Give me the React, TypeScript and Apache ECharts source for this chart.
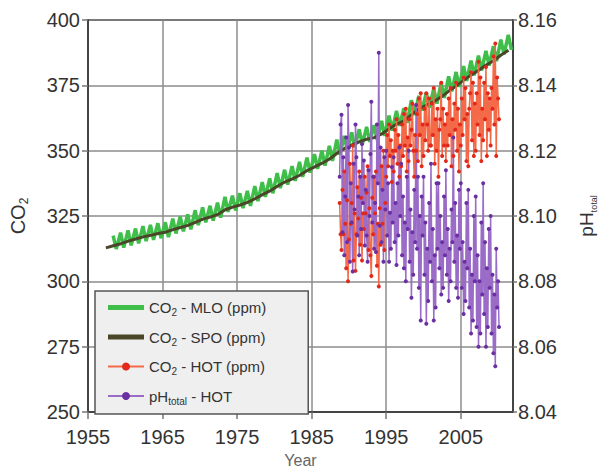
import React, { useEffect, useRef } from "react";
import * as echarts from "echarts";

// Mauna Loa CO2 (ppm): seasonal maximum (May) and minimum (Sep/Oct) per year, 1958-2011
const mloStartYear = 1958;
const mloPeaks = [317.5, 318.6, 319.5, 320.2, 321.1, 321.6, 322.2, 322.6, 324.0, 324.8, 325.6, 327.2, 328.3, 328.9, 330.1, 332.3, 332.8, 333.7, 334.6, 336.4, 338.0, 339.4, 341.4, 342.7, 344.1, 345.7, 347.3, 348.7, 350.0, 351.8, 354.2, 355.7, 357.0, 358.2, 359.1, 359.7, 361.4, 363.4, 365.2, 366.3, 369.3, 371.0, 372.2, 373.7, 375.9, 378.4, 380.1, 382.4, 384.5, 386.4, 388.2, 390.0, 392.5, 394.3];
const mloTroughs = [312.4, 312.9, 313.8, 314.5, 315.4, 315.9, 316.5, 316.9, 318.3, 319.1, 319.9, 321.5, 322.6, 323.2, 324.4, 326.6, 327.1, 328.0, 328.9, 330.7, 332.3, 333.7, 335.7, 337.0, 338.4, 340.0, 341.6, 343.0, 344.3, 346.1, 348.5, 350.0, 351.3, 352.5, 353.4, 354.0, 355.7, 357.7, 359.5, 360.6, 363.6, 365.3, 366.5, 368.0, 370.2, 372.7, 374.4, 376.7, 378.8, 380.7, 382.5, 384.3, 386.8, 388.6];

// South Pole CO2 (ppm), annual, 1957-2011
const spoStartYear = 1957;
const spoValues = [312.8, 313.6, 314.4, 315.4, 316.2, 317.0, 317.6, 318.3, 318.8, 319.8, 320.6, 321.4, 322.6, 323.8, 324.6, 325.6, 327.4, 328.4, 329.2, 330.2, 331.6, 333.2, 334.6, 336.4, 338.0, 339.2, 340.6, 342.4, 343.8, 345.2, 346.8, 349.0, 350.8, 352.2, 353.4, 354.4, 355.0, 356.4, 358.4, 360.2, 361.4, 363.8, 366.0, 367.4, 368.8, 370.6, 372.8, 374.8, 377.0, 379.0, 380.8, 382.8, 384.4, 386.6, 388.4];

// HOT station cruises: start 1988.75, every 1/8 year
const hotStartYear = 1988.75;
const hotStep = 0.125;
const hotCo2 = [
  330, 318,
  312, 335, 318, 342, 322, 305, 331, 300,
  316, 345, 322, 330, 352, 308, 326, 304,
  318, 336, 324, 342, 314, 332, 308, 326,
  320, 340, 326, 334, 344, 312, 328, 310,
  302, 332, 318, 340, 326, 342, 306, 322,
  298, 328, 314, 344, 322, 350, 312, 330,
  340, 356, 344, 360, 348, 354, 338, 350,
  342, 358, 350, 362, 345, 356, 340, 352,
  344, 360, 348, 364, 352, 366, 342, 355,
  346, 362, 352, 358, 368, 350, 340, 356,
  350, 364, 346, 370, 356, 372, 344, 360,
  348, 366, 354, 372, 360, 350, 370, 352,
  352, 368, 356, 374, 345, 362, 350, 366,
  340, 358, 362, 376, 348, 366, 352, 360,
  346, 364, 352, 370, 356, 374, 344, 362,
  348, 368, 358, 376, 350, 366, 342, 360,
  352, 370, 356, 378, 362, 374, 346, 364,
  344, 366, 372, 380, 354, 376, 348, 368,
  350, 372, 360, 384, 356, 378, 346, 366,
  354, 376, 362, 382, 348, 372, 358, 370,
  352, 374, 366, 386, 360, 391, 348, 378,
  370, 362,
];
const hotPh = [
  8.112, 8.128,
  8.131, 8.095, 8.118, 8.088, 8.106, 8.124, 8.092, 8.134,
  8.121, 8.086, 8.110, 8.098, 8.083, 8.116, 8.102, 8.128,
  8.118, 8.094, 8.106, 8.088, 8.112, 8.096, 8.122, 8.104,
  8.117, 8.091, 8.108, 8.094, 8.086, 8.114, 8.100, 8.119,
  8.135, 8.098, 8.112, 8.090, 8.104, 8.089, 8.128, 8.110,
  8.150, 8.097, 8.121, 8.092, 8.108, 8.086, 8.118, 8.102,
  8.120, 8.094, 8.110, 8.086, 8.101, 8.090, 8.115, 8.098,
  8.118, 8.092, 8.104, 8.085, 8.110, 8.094, 8.121, 8.100,
  8.116, 8.088, 8.106, 8.084, 8.098, 8.080, 8.112, 8.096,
  8.120, 8.086, 8.102, 8.075, 8.095, 8.082, 8.108, 8.092,
  8.134, 8.090, 8.112, 8.078, 8.100, 8.068, 8.106, 8.094,
  8.112, 8.082, 8.098, 8.067, 8.090, 8.074, 8.104, 8.086,
  8.116, 8.080, 8.096, 8.068, 8.088, 8.072, 8.110, 8.090,
  8.110, 8.084, 8.100, 8.076, 8.092, 8.078, 8.106, 8.088,
  8.114, 8.082, 8.096, 8.074, 8.090, 8.080, 8.102, 8.092,
  8.124, 8.086, 8.104, 8.078, 8.094, 8.075, 8.108, 8.090,
  8.110, 8.078, 8.092, 8.070, 8.086, 8.074, 8.104, 8.084,
  8.108, 8.072, 8.090, 8.064, 8.082, 8.068, 8.100, 8.080,
  8.106, 8.066, 8.088, 8.060, 8.080, 8.064, 8.098, 8.076,
  8.110, 8.070, 8.092, 8.060, 8.084, 8.066, 8.096, 8.078,
  8.100, 8.064, 8.082, 8.058, 8.076, 8.054, 8.090, 8.072,
  8.080, 8.066,
];

const seriesNames = ["CO₂ - MLO (ppm)", "CO₂ - SPO (ppm)", "CO₂ - HOT (ppm)", "pHtotal - HOT"];
const legendRich: Record<string, string> = {
  "CO₂ - MLO (ppm)": "{n|CO}{s|2}{n| - MLO (ppm)}",
  "CO₂ - SPO (ppm)": "{n|CO}{s|2}{n| - SPO (ppm)}",
  "CO₂ - HOT (ppm)": "{n|CO}{s|2}{n| - HOT (ppm)}",
  "pHtotal - HOT": "{n|pH}{s|total}{n| - HOT}",
};

const FONT = "'Liberation Sans', Arial, sans-serif";
const C_MLO = "#3fbf4a";
const C_SPO = "#4a4628";
const LINE_ICON = "path://M0 0H36V5H0Z";

export default function App() {
  const ref = useRef<HTMLDivElement>(null);
  useEffect(() => {
    const chart = echarts.init(ref.current!, null, { renderer: "svg" });

    const mloData: number[][] = [];
    mloPeaks.forEach((p, i) => {
      mloData.push([mloStartYear + i + 0.37, p]);
      mloData.push([mloStartYear + i + 0.79, mloTroughs[i]]);
    });
    const spoData = spoValues.map((v, i) => [spoStartYear + i + 0.4, v]);
    const hotCo2Data = hotCo2.map((v, i) => [hotStartYear + i * hotStep, v]);
    const hotPhData = hotPh.map((v, i) => [hotStartYear + i * hotStep, v]);

    const legendTextRich = {
      n: { fontFamily: FONT, fontSize: 15, color: "#333", lineHeight: 20, verticalAlign: "middle" },
      s: { fontFamily: FONT, fontSize: 10, color: "#333", lineHeight: 10, verticalAlign: "bottom" },
    };
    const nameRich = (size: number, sub: number) => ({
      n: { fontFamily: FONT, fontSize: size, color: "#333", lineHeight: size + 4, verticalAlign: "middle" },
      s: { fontFamily: FONT, fontSize: sub, color: "#333", lineHeight: sub, verticalAlign: "bottom" },
    });

    const option: any = {
      animation: false,
      backgroundColor: "#fff",
      textStyle: { fontFamily: FONT },
      grid: {
        left: 87, right: 82, top: 20, bottom: 55,
        show: true, backgroundColor: "#fff", borderColor: "#444", borderWidth: 2,
      },
      legend: {
        data: [
          { name: seriesNames[0], icon: LINE_ICON, itemStyle: { color: C_MLO } },
          { name: seriesNames[1], icon: LINE_ICON, itemStyle: { color: C_SPO } },
          { name: seriesNames[2] },
          { name: seriesNames[3] },
        ],
        orient: "vertical",
        left: 95,
        top: 291,
        itemWidth: 36,
        itemHeight: 10,
        itemGap: 12,
        padding: [9, 42, 8, 12],
        backgroundColor: "#efefef",
        borderColor: "#555",
        borderWidth: 1.5,
        formatter: (n: string) => legendRich[n] ?? n,
        textStyle: { rich: legendTextRich },
      },
      xAxis: [
        { type: "value", min: 1955, max: 2012, show: false, position: "bottom" },
        {
          type: "value", min: 0, max: 57, interval: 10, position: "bottom",
          axisLine: { show: true, onZero: false, lineStyle: { color: "#444", width: 2 } },
          axisTick: { show: true, length: 7, lineStyle: { color: "#777", width: 1.5 } },
          axisLabel: {
            formatter: (v: number) => String(1955 + v), fontSize: 20, color: "#333",
            margin: 15, showMaxLabel: false, fontFamily: FONT,
          },
          splitLine: { show: true, lineStyle: { color: "#8c8c8c", width: 1.5 } },
          name: "Year", nameLocation: "middle", nameGap: 40,
          nameTextStyle: { fontSize: 16, color: "#666", fontFamily: FONT },
        },
      ],
      yAxis: [
        {
          type: "value", min: 250, max: 400, interval: 25, position: "left",
          axisLine: { show: true, onZero: false, lineStyle: { color: "#444", width: 2 } },
          axisTick: { show: true, length: 6, lineStyle: { color: "#777", width: 1.5 } },
          axisLabel: { fontSize: 20, color: "#333", margin: 8, fontFamily: FONT },
          splitLine: { show: true, lineStyle: { color: "#8c8c8c", width: 1.5 } },
          name: "{n|CO}{s|2}", nameLocation: "middle", nameGap: 58, nameRotate: 90,
          nameTextStyle: { rich: nameRich(20, 12) },
        },
        {
          type: "value", min: 8.04, max: 8.16, interval: 0.02, position: "right",
          axisLine: { show: true, onZero: false, lineStyle: { color: "#444", width: 2 } },
          axisTick: { show: true, length: 4, lineStyle: { color: "#777", width: 1.5 } },
          axisLabel: { fontSize: 20, color: "#333", margin: 5, fontFamily: FONT, formatter: (v: number) => v.toFixed(2) },
          splitLine: { show: false },
          name: "{n|pH}{s|total}", nameLocation: "middle", nameGap: 62, nameRotate: 90,
          nameTextStyle: { rich: nameRich(19, 9) },
        },
      ],
      series: [
        {
          name: seriesNames[0], type: "line", xAxisIndex: 0, yAxisIndex: 0, data: mloData,
          symbol: "none", lineStyle: { color: C_MLO, width: 3.5 }, itemStyle: { color: C_MLO },
        },
        {
          name: seriesNames[1], type: "line", xAxisIndex: 0, yAxisIndex: 0, data: spoData,
          symbol: "none", lineStyle: { color: C_SPO, width: 3 }, itemStyle: { color: C_SPO },
        },
        {
          name: seriesNames[2], type: "line", xAxisIndex: 0, yAxisIndex: 0, data: hotCo2Data,
          symbol: "circle", symbolSize: 4, showSymbol: true,
          lineStyle: { color: "#f46a48", width: 1.5 }, itemStyle: { color: "#e2281a" },
        },
        {
          name: seriesNames[3], type: "line", xAxisIndex: 0, yAxisIndex: 1, data: hotPhData,
          symbol: "circle", symbolSize: 4, showSymbol: true,
          lineStyle: { color: "#9a6cc8", width: 1.5 }, itemStyle: { color: "#6a2fa0" },
        },
      ],
    };
    chart.setOption(option);
    return () => chart.dispose();
  }, []);
  return <div ref={ref} style={{ position: "fixed", left: 0, top: 0, width: 606, height: 473 }} />;
}
